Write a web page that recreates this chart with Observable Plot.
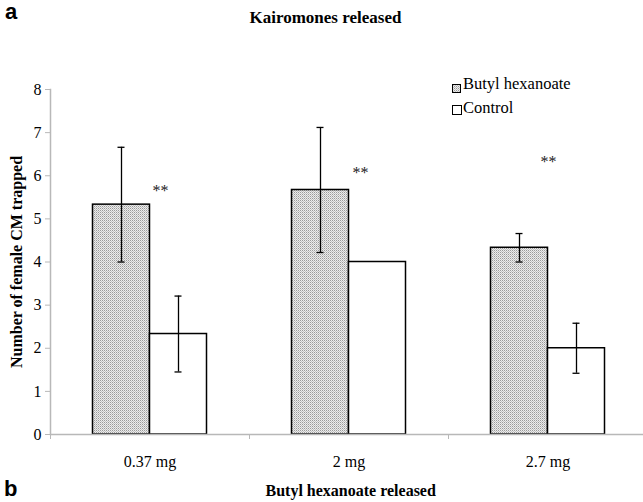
<!DOCTYPE html>
<html><head><meta charset="utf-8">
<script src="https://cdn.jsdelivr.net/npm/d3@7"></script>
<script src="https://cdn.jsdelivr.net/npm/@observablehq/plot@0.6"></script>
<style>
body{margin:0;background:#fff;}
#wrap{position:relative;width:643px;height:502px;overflow:hidden;font-family:"Liberation Serif","Times New Roman",serif;color:#000;}
#wrap .abs{position:absolute;white-space:nowrap;line-height:1;}
.panel{font-family:"Liberation Sans",Arial,sans-serif;font-weight:bold;font-size:22px;}
.ttl{font-weight:bold;font-size:17px;}
.leg{font-size:16.5px;}
#chart{position:absolute;left:0;top:0;}
</style></head><body>
<svg width="0" height="0" style="position:absolute">
  <defs>
    <pattern id="stipple" width="2" height="2" patternUnits="userSpaceOnUse">
      <rect width="2" height="2" fill="#ececec"/>
      <rect x="0" y="0" width="1" height="1" fill="#9a9a9a"/>
      <rect x="1" y="1" width="1" height="1" fill="#c2c2c2"/>
    </pattern>
  </defs>
</svg>
<div id="wrap">
  <div id="chart"></div>
  <div class="abs panel" style="left:5px;top:1px;">a</div>
  <div class="abs ttl" id="t1" style="top:9px;">Kairomones released</div>
  <div class="abs" style="left:452px;top:80px;"><svg width="9" height="9"><rect x="0.5" y="0.5" width="8" height="8" fill="url(#stipple)" stroke="#000" stroke-width="1"/></svg></div>
  <div class="abs leg" style="left:463px;top:75.5px;">Butyl hexanoate</div>
  <div class="abs" style="left:452px;top:102px;"><svg width="10" height="10"><rect x="0.5" y="0.5" width="9" height="9" fill="#fff" stroke="#000" stroke-width="1"/></svg></div>
  <div class="abs leg" style="left:463px;top:99.5px;">Control</div>
  <div class="abs panel" style="left:4px;top:478px;">b</div>
  <div class="abs ttl" id="t2" style="top:482.5px;font-size:16px;">Butyl hexanoate released</div>
</div>
<script>
// ---- data ----
const doses = ["0.37 mg", "2 mg", "2.7 mg"];
const seriesNames = ["Butyl hexanoate", "Control"];
const butylMean = [5.33, 5.67, 4.33];
const butylErr = [1.33, 1.45, 0.33];
const controlMean = [2.33, 4.0, 2.0];
const controlErr = [0.88, 0, 0.58];
const starY = [5.74, 6.17, 6.42];
const starLabel = "**";
const yTicks = [0, 1, 2, 3, 4, 5, 6, 7, 8];
const yLabel = "Number of female CM trapped";

// ---- table ----
const rows = [];
doses.forEach((d, i) => {
  rows.push({dose: d, series: seriesNames[0], mean: butylMean[i], err: butylErr[i]});
  rows.push({dose: d, series: seriesNames[1], mean: controlMean[i], err: controlErr[i]});
});
const butyl = rows.filter(r => r.series === seriesNames[0]);
const control = rows.filter(r => r.series === seriesNames[1]);
const butylE = butyl.filter(r => r.err > 0);
const controlE = control.filter(r => r.err > 0);

// layout styles (band = 199px)
const BW = 57, PAD = 42.5, BAND = 199, CAP = 3.5;
const bCenter = PAD + BW / 2, cCenter = PAD + BW * 1.5;
const dxB = bCenter - BAND / 2, dxC = cCenter - BAND / 2;
const capB = {insetLeft: bCenter - CAP, insetRight: BAND - bCenter - CAP};
const capC = {insetLeft: cCenter - CAP, insetRight: BAND - cCenter - CAP};
const starDx = [10.5, 11.5, 0.5];

function errMarks(data, dx, cap) {
  return [
    Plot.ruleX(data, {x: "dose", y1: r => r.mean - r.err, y2: r => r.mean + r.err, dx, stroke: "#000", strokeWidth: 1.3}),
    Plot.tickY(data, {x: "dose", y: r => r.mean + r.err, stroke: "#000", strokeWidth: 1.3, ...cap}),
    Plot.tickY(data, {x: "dose", y: r => r.mean - r.err, stroke: "#000", strokeWidth: 1.3, ...cap})
  ];
}

const chart = Plot.plot({
  width: 643,
  height: 502,
  marginLeft: 50,
  marginRight: 0,
  marginTop: 89,
  marginBottom: 68,
  style: {fontFamily: "'Liberation Serif','Times New Roman',serif", fontSize: "16px", background: "transparent", color: "#000"},
  x: {type: "band", domain: doses, range: [50, 50 + BAND * 3], padding: 0, label: null},
  y: {domain: [0, 8], label: null},
  marks: [
    Plot.barY(butyl, {x: "dose", y: "mean", fill: "url(#stipple)", stroke: "#000", strokeWidth: 1.5, insetLeft: PAD, insetRight: BAND - PAD - BW}),
    Plot.barY(control, {x: "dose", y: "mean", fill: "#fff", stroke: "#000", strokeWidth: 1.5, insetLeft: PAD + BW, insetRight: PAD}),
    ...errMarks(butylE, dxB, capB),
    ...errMarks(controlE, dxC, capC),
    ...doses.map((d, i) => Plot.text([d], {x: v => v, y: () => starY[i], text: () => starLabel, dx: starDx[i], dy: 4, fontSize: 16, fill: "#222"})),
    Plot.ruleY([0], {stroke: "#b8b8b8", strokeWidth: 1.5}),
    Plot.frame({anchor: "left", stroke: "#b8b8b8", strokeWidth: 1.5}),
    Plot.axisY({ticks: yTicks, tickSize: 5, tickPadding: 4, stroke: "#b8b8b8", fill: "#000", fontSize: 16, label: null}),
    Plot.axisY({ticks: [], tickSize: 0, label: yLabel, labelAnchor: "center", labelOffset: 40, labelArrow: false, fontWeight: "bold", fontSize: 16}),
    Plot.axisX({tickSize: 5, tickFormat: () => "", dx: -BAND / 2, stroke: "#b8b8b8", label: null}),
    Plot.axisX({tickSize: 0, tickPadding: 21, fontSize: 16, label: null})
  ]
});
document.getElementById("chart").appendChild(chart);

// center titles
const t1 = document.getElementById("t1");
t1.style.left = (325.5 - t1.offsetWidth / 2) + "px";
const t2 = document.getElementById("t2");
t2.style.left = (350.5 - t2.offsetWidth / 2) + "px";
</script>
</body></html>
